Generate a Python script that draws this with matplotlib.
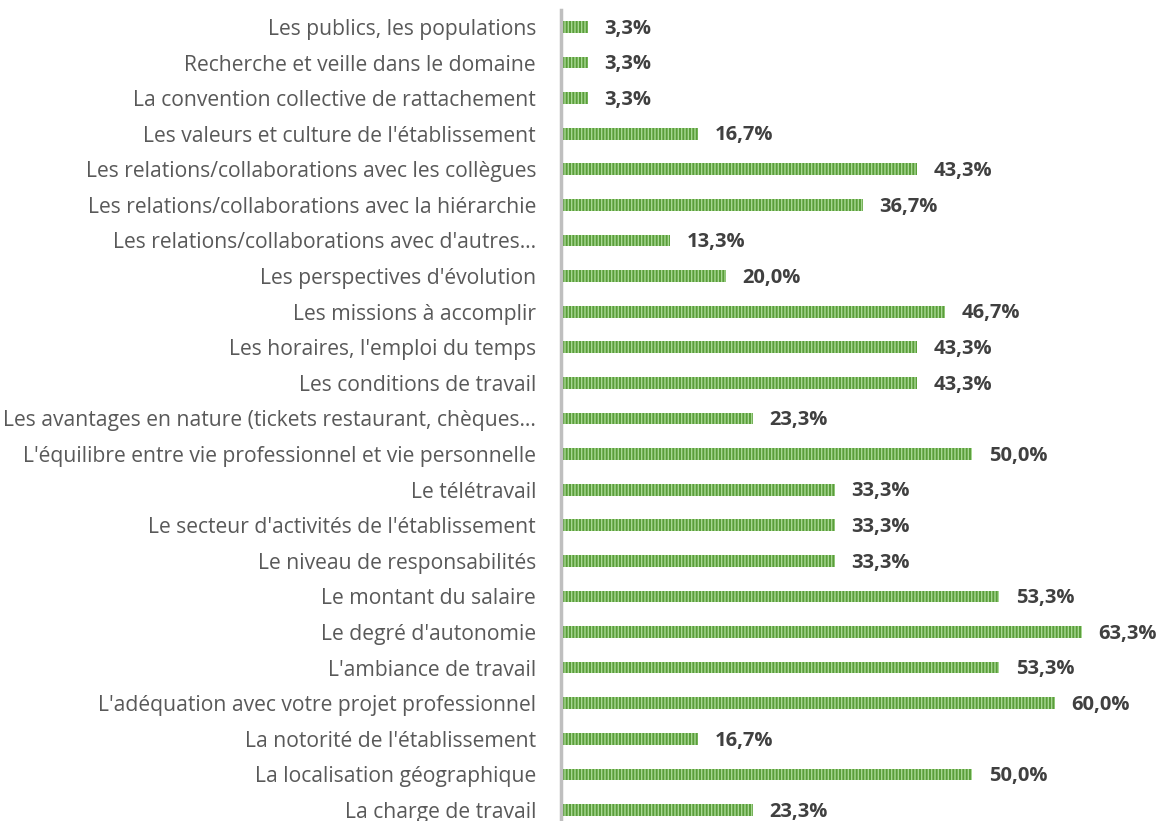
import matplotlib.pyplot as plt
import numpy as np

# categories from bottom to top
categories = [
    "La charge de travail",
    "La localisation géographique",
    "La notorité de l'établissement",
    "L'adéquation avec votre projet professionnel",
    "L'ambiance de travail",
    "Le degré d'autonomie",
    "Le montant du salaire",
    "Le niveau de responsabilités",
    "Le secteur d'activités de l'établissement",
    "Le télétravail",
    "L'équilibre entre vie professionnel et vie personnelle",
    "Les avantages en nature (tickets restaurant, chèques…",
    "Les conditions de travail",
    "Les horaires, l'emploi du temps",
    "Les missions à accomplir",
    "Les perspectives d'évolution",
    "Les relations/collaborations avec d'autres…",
    "Les relations/collaborations avec la hiérarchie",
    "Les relations/collaborations avec les collègues",
    "Les valeurs et culture de l'établissement",
    "La convention collective de rattachement",
    "Recherche et veille dans le domaine",
    "Les publics, les populations",
]
values = [23.3, 50.0, 16.7, 60.0, 53.3, 63.3, 53.3, 33.3, 33.3, 33.3, 50.0,
          23.3, 43.3, 43.3, 46.7, 20.0, 13.3, 36.7, 43.3, 16.7, 3.3, 3.3, 3.3]

plt.rcParams['font.family'] = ['Open Sans', 'DejaVu Sans']
plt.rcParams['hatch.linewidth'] = 1.0
plt.rcParams['hatch.color'] = '#a8d894'

fig = plt.figure(figsize=(11.64, 8.21), dpi=100)
ax = fig.add_axes([0.482, 0.0, 0.518, 0.988])

y = np.arange(len(categories))
ax.barh(y, values, height=0.33, color='#5a9e3a', edgecolor='#a8d894',
        linewidth=0, hatch='|||||')

for yi, v in zip(y, values):
    ax.text(v + 2.0, yi - 0.05, f"{v:.1f}".replace('.', ',') + '%', va='center',
            ha='left', fontsize=14.5, fontweight='bold', color='#404040')

ax.set_yticks(y)
ax.set_yticklabels(categories, fontsize=15.2, color='#595959')
ax.tick_params(axis='y', length=0, pad=18)
ax.set_xticks([])
ax.set_xlim(0, 73.3)
ax.set_ylim(-0.31, 22.48)
for s in ['top', 'right', 'bottom']:
    ax.spines[s].set_visible(False)
ax.spines['left'].set_color('#bfbfbf')
ax.spines['left'].set_linewidth(2.5)

plt.savefig('out.png', dpi=100)
